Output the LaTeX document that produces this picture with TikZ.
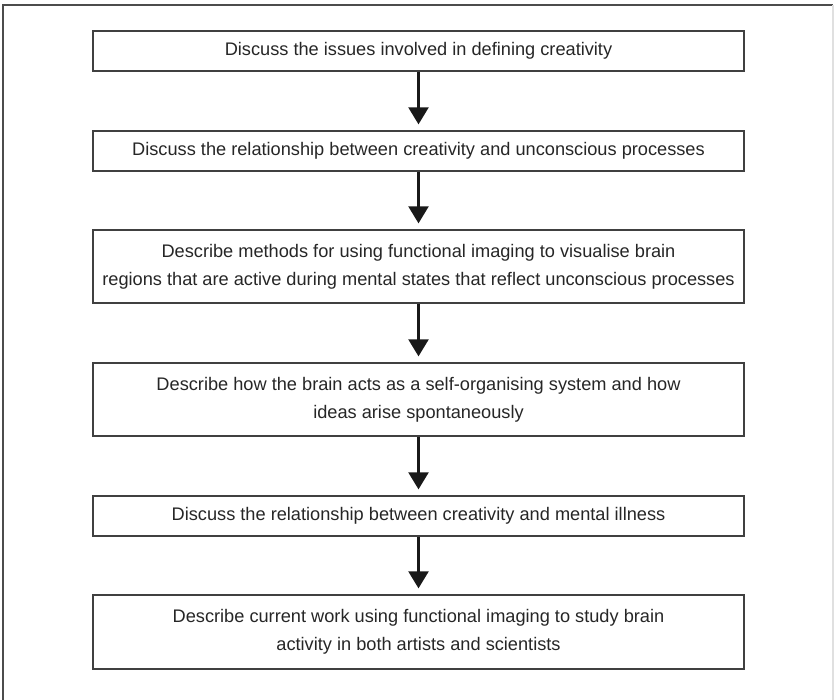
\documentclass[tikz,border=0pt]{standalone}
\usepackage{fontspec}
\setmainfont{Liberation Sans}
\usetikzlibrary{arrows.meta}
\begin{document}
\begin{tikzpicture}[x=1pt,y=-1pt,
  stepbox/.style={draw=black!75,line width=1.3pt,minimum width=651pt,inner sep=0pt,
    align=center,text=black!85,font=\fontsize{18.2}{28}\selectfont},
  flow/.style={draw=black!90,line width=2.3pt,-{Triangle[width=20pt,length=17pt]},shorten >=6pt}]
\useasboundingbox (0,0) rectangle (834,700);
\draw[black!70,line width=1.2pt] (3,700) -- (3,5) -- (833,5);
\draw[black!12,line width=1.2pt] (833,5) -- (833,700);
\node[stepbox,minimum height=40pt] (b1) at (418.5,51) {Discuss the issues involved in defining creativity};
\node[stepbox,minimum height=40pt] (b2) at (418.5,151) {Discuss the relationship between creativity and unconscious processes};
\node[stepbox,minimum height=73pt] (b3) at (418.5,266.5) {Describe methods for using functional imaging to visualise brain\\regions that are active during mental states that reflect unconscious processes};
\node[stepbox,minimum height=73pt] (b4) at (418.5,399.5) {Describe how the brain acts as a self-organising system and how\\ideas arise spontaneously};
\node[stepbox,minimum height=40pt] (b5) at (418.5,516) {Discuss the relationship between creativity and mental illness};
\node[stepbox,minimum height=74pt] (b6) at (418.5,632) {Describe current work using functional imaging to study brain\\activity in both artists and scientists};
\foreach \a/\b in {b1/b2,b2/b3,b3/b4,b4/b5,b5/b6}
  \draw[flow] (\a.south) -- (\b.north);
\end{tikzpicture}
\end{document}
